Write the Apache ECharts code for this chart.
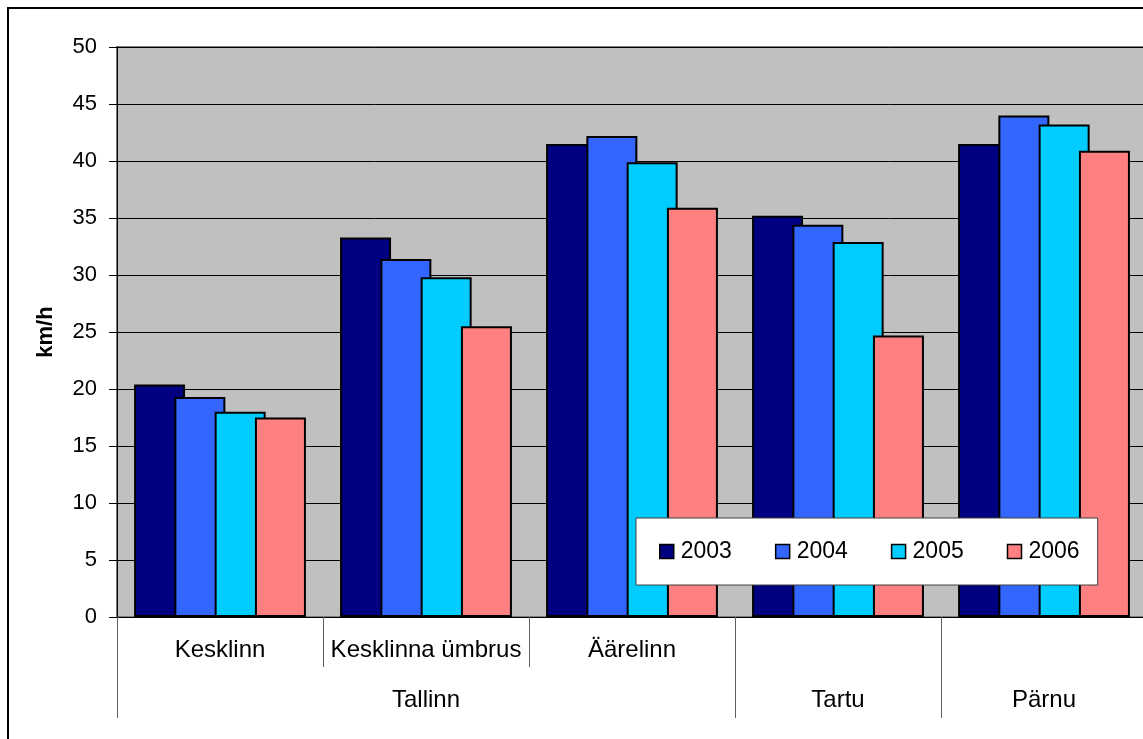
<!DOCTYPE html>
<html>
<head>
<meta charset="utf-8">
<script src="https://cdn.jsdelivr.net/npm/echarts@6/dist/echarts.min.js"></script>
<style>
html, body { margin: 0; padding: 0; background: #fff; overflow: hidden; }
#chart { width: 1152px; height: 739px; }
</style>
</head>
<body>
<div id="chart"></div>
<script>
var districts = ['Kesklinn', 'Kesklinna ümbrus', 'Äärelinn', '', ''];
var cities = ['', 'Tallinn', '', 'Tartu', 'Pärnu'];
var years = ['2003', '2004', '2005', '2006'];
var speed2003 = [20.4, 33.3, 41.5, 35.2, 41.5];
var speed2004 = [19.3, 31.4, 42.2, 34.4, 44.0];
var speed2005 = [18.0, 29.8, 39.9, 32.9, 43.2];
var speed2006 = [17.5, 25.5, 35.9, 24.7, 40.9];
var colors = ['#000080', '#3366ff', '#00ccff', '#ff8080'];

var font = 'Liberation Sans, Arial, sans-serif';
var chart = echarts.init(document.getElementById('chart'));

function bar(name, values) {
    return {
        name: name,
        type: 'bar',
        barWidth: 51,
        barGap: '-21%',
        itemStyle: {
            borderColor: '#000',
            borderWidth: 2
        },
        data: values
    };
}

option = {
    animation: false,
    color: colors,
    textStyle: { fontFamily: font },
    graphic: [{
        type: 'rect',
        shape: { x: 8, y: 8, width: 1200, height: 800 },
        style: { fill: 'none', stroke: '#000', lineWidth: 2 },
        z: 100
    }],
    grid: {
        left: 117,
        top: 47,
        width: 1030,
        height: 570,
        show: true,
        backgroundColor: '#c0c0c0',
        borderColor: '#808080',
        borderWidth: 2
    },
    legend: {
        data: years,
        left: 636,
        top: 518,
        orient: 'horizontal',
        icon: 'rect',
        itemWidth: 14,
        itemHeight: 14,
        itemGap: 43,
        padding: [22, 18, 22, 23],
        backgroundColor: '#fff',
        borderColor: '#404040',
        borderWidth: 1,
        itemStyle: { borderColor: '#000', borderWidth: 1.5 },
        textStyle: { fontSize: 23, color: '#000', fontFamily: font, padding: [0, 0, 0, 2] }
    },
    xAxis: [{
        type: 'category',
        data: districts,
        position: 'bottom',
        axisLine: { lineStyle: { color: '#000', width: 1 } },
        axisTick: { show: true, interval: 0, length: 50, lineStyle: { color: '#606060' } },
        axisLabel: { interval: 0, margin: 21, fontSize: 24, color: '#000', fontFamily: font }
    }, {
        type: 'category',
        data: cities,
        position: 'bottom',
        axisLine: { show: false },
        axisTick: {
            show: true,
            length: 101,
            interval: function (index) {
                return index === 0 || index === 3 || index === 4;
            },
            lineStyle: { color: '#606060' }
        },
        axisLabel: { interval: 0, margin: 71, fontSize: 24, color: '#000', fontFamily: font }
    }],
    yAxis: {
        type: 'value',
        min: 0,
        max: 50,
        interval: 5,
        name: 'km/h',
        nameLocation: 'middle',
        nameGap: 60,
        nameTextStyle: { fontSize: 22, fontWeight: 'bold', color: '#000', fontFamily: font },
        axisLine: { show: true, lineStyle: { color: '#000', width: 1 } },
        axisTick: { show: true, length: 8, lineStyle: { color: '#000' } },
        axisLabel: { margin: 20, fontSize: 22, color: '#000', fontFamily: font },
        splitLine: { show: true, lineStyle: { color: '#000', width: 1 } }
    },
    series: [
        bar('2003', speed2003),
        bar('2004', speed2004),
        bar('2005', speed2005),
        bar('2006', speed2006)
    ]
};
chart.setOption(option);
</script>
</body>
</html>
